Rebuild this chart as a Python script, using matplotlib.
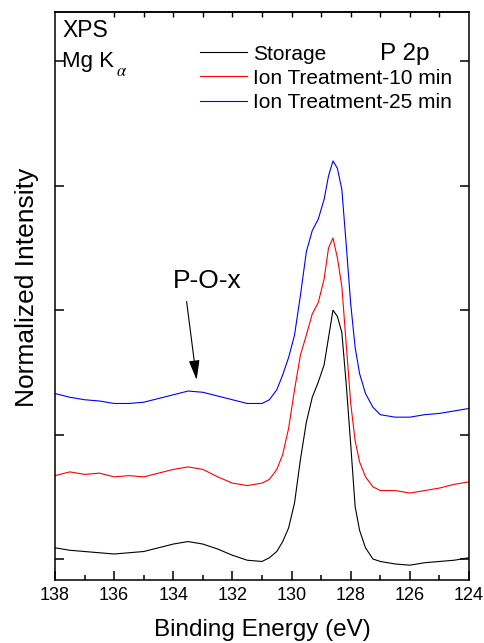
import matplotlib
matplotlib.use("Agg")
import matplotlib.pyplot as plt
from matplotlib.ticker import MultipleLocator, FixedLocator, NullFormatter

plt.rcParams['font.family'] = ['Liberation Sans', 'DejaVu Sans']
plt.rcParams['mathtext.fontset'] = 'stix'

# ---- data ----
energy = [138.0, 137.5, 137.0, 136.5, 136.0, 135.5, 135.0, 134.5, 134.0, 133.5,
          133.0, 132.5, 132.0, 131.5, 131.0, 130.75, 130.5, 130.3, 130.1, 129.9,
          129.7, 129.5, 129.3, 129.1, 128.9, 128.75, 128.6, 128.45, 128.3, 128.15,
          128.0, 127.85, 127.7, 127.5, 127.25, 127.0, 126.5, 126.0, 125.5, 125.0,
          124.5, 124.0]

storage = [0.09, 0.07, 0.06, 0.05, 0.04, 0.05, 0.06, 0.09, 0.12, 0.14,
           0.12, 0.08, 0.03, -0.01, -0.02, 0.01, 0.06, 0.14, 0.25, 0.45,
           0.80, 1.10, 1.30, 1.42, 1.56, 1.78, 2.00, 1.95, 1.82, 1.40,
           0.92, 0.42, 0.23, 0.09, 0.00, -0.02, -0.04, -0.05, -0.03, -0.02,
           -0.01, 0.01]

ion10 = [0.67, 0.70, 0.68, 0.69, 0.66, 0.67, 0.66, 0.69, 0.72, 0.74,
         0.72, 0.66, 0.61, 0.59, 0.61, 0.64, 0.72, 0.84, 1.05, 1.36,
         1.64, 1.80, 1.97, 2.06, 2.25, 2.50, 2.58, 2.42, 2.19, 1.72,
         1.25, 0.95, 0.78, 0.66, 0.58, 0.55, 0.55, 0.53, 0.55, 0.57,
         0.60, 0.62]

ion25 = [1.33, 1.30, 1.28, 1.27, 1.25, 1.25, 1.26, 1.29, 1.32, 1.35,
         1.34, 1.31, 1.28, 1.25, 1.25, 1.28, 1.36, 1.48, 1.62, 1.80,
         2.12, 2.47, 2.64, 2.73, 2.89, 3.08, 3.20, 3.14, 2.97, 2.52,
         2.05, 1.70, 1.49, 1.33, 1.22, 1.16, 1.14, 1.14, 1.16, 1.17,
         1.19, 1.21]

series_labels = ["Storage", "Ion Treatment-10 min", "Ion Treatment-25 min"]
series_colors = ["black", "red", "blue"]

xticks = [138, 136, 134, 132, 130, 128, 126, 124]
top_ticks = [136, 135, 134, 133, 132, 131, 130, 129, 128, 127, 126, 125]
yticks = [0, 1, 2, 3, 4]

# ---- figure ----
fig = plt.figure(figsize=(4.84, 6.43), dpi=100)
ax = fig.add_axes([55/484, 1-580/643, (469-55)/484, (580-12)/643])

for y, lab, c in zip([storage, ion10, ion25], series_labels, series_colors):
    ax.plot(energy, y, color=c, lw=0.8, label=lab)

ax.set_xlim(138, 124)
ax.set_ylim(-0.169, 4.397)

ax.set_xticks(xticks)
ax.xaxis.set_minor_locator(MultipleLocator(1))
ax.set_yticks(yticks)
ax.set_yticklabels([])
ax.tick_params(axis='x', which='major', direction='in', length=6.5, width=1.1,
               labelsize=13, pad=5, top=False)
ax.tick_params(axis='x', which='minor', direction='in', length=3.5, width=1.1, top=False)
ax.tick_params(axis='y', which='major', direction='in', length=6.5, width=1.1,
               left=True, right=True)
for s in ax.spines.values():
    s.set_linewidth(1.1)

sec = ax.secondary_xaxis('top')
sec.xaxis.set_major_locator(FixedLocator(top_ticks))
sec.xaxis.set_major_formatter(NullFormatter())
sec.tick_params(direction='in', length=3.3, width=1.0)
sec.spines['top'].set_linewidth(1.1)

leg = ax.legend(loc='upper left', bbox_to_anchor=(200/484, 1-44.5/643),
                bbox_transform=fig.transFigure, frameon=False, fontsize=15,
                handlelength=2.26, handletextpad=0.3, labelspacing=0.25,
                borderpad=0, borderaxespad=0)
for h in leg.get_lines():
    h.set_linewidth(0.8)

fig.text(62/484, 1-37/643, "XPS", fontsize=16.5, va='baseline', ha='left')
fig.text(62/484, 1-67/643, "Mg K", fontsize=16, va='baseline', ha='left')
fig.text(116/484, 1-76/643, r"$\alpha$", fontsize=12, va='baseline', ha='left')
fig.text(380/484, 1-60/643, "P 2p", fontsize=17.5, va='baseline', ha='left')

ax.text(132.86, 2.18, "P-O-x", fontsize=19, ha='center', va='baseline')
ax.annotate("", xy=(133.21, 1.44), xytext=(133.55, 2.07),
            arrowprops=dict(arrowstyle='-|>,head_length=0.8,head_width=0.22',
                            mutation_scale=15, lw=0.8, color='black',
                            shrinkA=0, shrinkB=0))

fig.text(262/484, 1-636/643, "Binding Energy (eV)", fontsize=17.5,
         ha='center', va='baseline')
fig.text(27.5/484, 1-287/643, "Normalized Intensity", fontsize=19,
         rotation=90, ha='center', va='center')

fig.savefig("out.png", dpi=100)
